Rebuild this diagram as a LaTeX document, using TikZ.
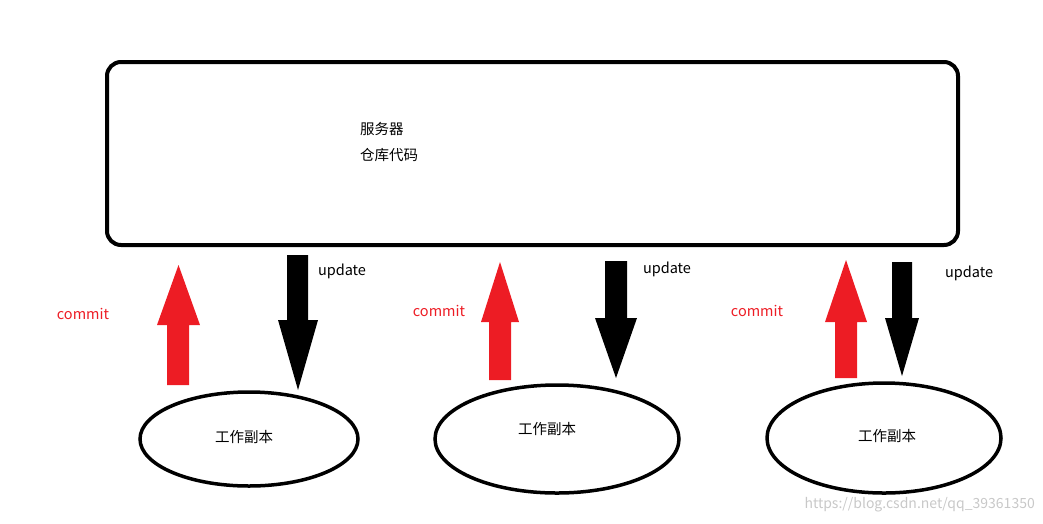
\documentclass[tikz,border=0pt]{standalone}
\usepackage{fontspec}
\setmainfont{Noto Sans CJK SC}
\definecolor{red}{RGB}{237,28,36}
\definecolor{wmgray}{RGB}{200,200,200}

% arrow: colour, shaft left/right, head left/right, shaft end, head base, tip
\newcommand{\bigarrow}[8]{%
  \fill[#1] (#2,-#6) -- (#2,-#7) -- (#4,-#7) -- ({(#4+#5)/2},-#8) -- (#5,-#7) -- (#3,-#7) -- (#3,-#6) -- cycle;}

\begin{document}
\begin{tikzpicture}[x=1pt,y=1pt]
  \tikzset{server/.style={draw,line width=4pt,rounded corners=14pt}}
  \tikzset{lbl/.style={inner sep=0pt,font=\fontsize{14.5}{17}\selectfont}}

  \useasboundingbox (0,0) rectangle (1043,-523);

  \draw[server] (107,-62) rectangle (958,-245);
  \node[lbl,anchor=west] (srv) at (360,-129) {服务器};
  \node[lbl,anchor=west] (repo) at (360,-155) {仓库代码};

  \draw[line width=3.5pt] (249,-439) ellipse (109 and 47);
  \draw[line width=3.5pt] (557,-439) ellipse (122 and 54);
  \draw[line width=3.5pt] (884,-438) ellipse (117 and 55);
  \node[lbl] (copyA) at (244,-437) {工作副本};
  \node[lbl] (copyB) at (547,-429) {工作副本};
  \node[lbl] (copyC) at (887,-436) {工作副本};

  % commit arrows
  \bigarrow{red}{167}{189}{157}{200}{385}{325}{265}
  \bigarrow{red}{489}{511}{481}{519}{380}{322}{262}
  \bigarrow{red}{835}{857}{825}{867}{378}{322}{260}

  % update arrows
  \bigarrow{black}{287}{308}{278}{318}{255}{320}{390}
  \bigarrow{black}{605}{627}{595}{637}{261}{318}{378}
  \bigarrow{black}{892}{912}{885}{919}{262}{318}{376}

  \node[lbl,text=red] (commitA) at (83,-314) {commit};
  \node[lbl,text=red] (commitB) at (439,-311) {commit};
  \node[lbl,text=red] (commitC) at (757,-311) {commit};
  \node[lbl] (updateA) at (342,-271) {update};
  \node[lbl] (updateB) at (667,-269) {update};
  \node[lbl] (updateC) at (969,-273) {update};

  \node[lbl,text=wmgray,anchor=east,font=\fontsize{14}{16}\selectfont] (wm) at (1035,-505) {https://blog.csdn.net/qq\_39361350};
\end{tikzpicture}
\end{document}
